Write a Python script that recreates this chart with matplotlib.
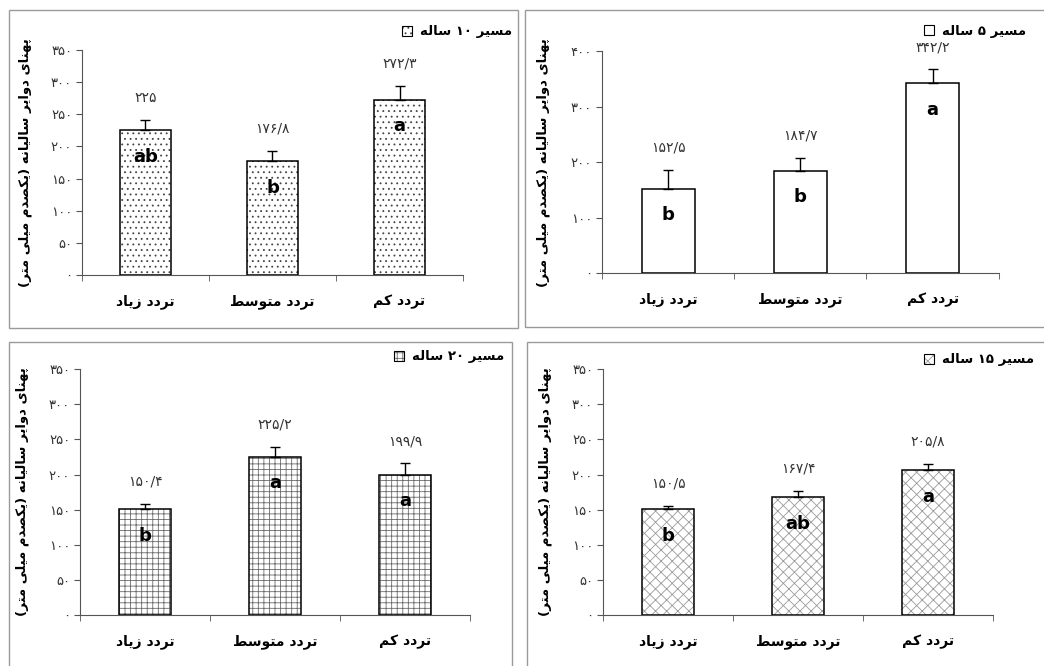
import re
import matplotlib
matplotlib.use('Agg')
import matplotlib.pyplot as plt
from matplotlib.patches import Patch, Rectangle

plt.rcParams['font.family'] = ['DejaVu Sans']
plt.rcParams['hatch.linewidth'] = 0.6

categories = ['تردد زیاد', 'تردد متوسط', 'تردد کم']

route_10 = 'مسیر ۱۰ ساله'
means_10 = [225.0, 176.8, 272.3]
err_10 = [16, 16, 22]
letters_10 = ['ab', 'b', 'a']

route_5 = 'مسیر ۵ ساله'
means_5 = [152.5, 184.7, 342.2]
err_5 = [33, 23, 25]
letters_5 = ['b', 'b', 'a']

route_20 = 'مسیر ۲۰ ساله'
means_20 = [150.4, 225.2, 199.9]
err_20 = [8, 14, 16]
letters_20 = ['b', 'a', 'a']

route_15 = 'مسیر ۱۵ ساله'
means_15 = [150.5, 167.4, 205.8]
err_15 = [5, 9, 9]
letters_15 = ['b', 'ab', 'a']

ylabel = 'پهنای دوایر سالیانه (یکصدم میلی متر)'

# presentation forms: isolated, final, initial, medial (None -> joins only to the right)
FORMS = {
    'ا': ('\uFE8D', '\uFE8E', None, None),
    'ب': ('\uFE8F', '\uFE90', '\uFE91', '\uFE92'),
    'ت': ('\uFE95', '\uFE96', '\uFE97', '\uFE98'),
    'د': ('\uFEA9', '\uFEAA', None, None),
    'ر': ('\uFEAD', '\uFEAE', None, None),
    'ز': ('\uFEAF', '\uFEB0', None, None),
    'س': ('\uFEB1', '\uFEB2', '\uFEB3', '\uFEB4'),
    'ص': ('\uFEB9', '\uFEBA', '\uFEBB', '\uFEBC'),
    'ط': ('\uFEC1', '\uFEC2', '\uFEC3', '\uFEC4'),
    'ل': ('\uFEDD', '\uFEDE', '\uFEDF', '\uFEE0'),
    'م': ('\uFEE1', '\uFEE2', '\uFEE3', '\uFEE4'),
    'ن': ('\uFEE5', '\uFEE6', '\uFEE7', '\uFEE8'),
    'ه': ('\uFEE9', '\uFEEA', '\uFEEB', '\uFEEC'),
    'و': ('\uFEED', '\uFEEE', None, None),
    'پ': ('\uFB56', '\uFB57', '\uFB58', '\uFB59'),
    'ک': ('\uFB8E', '\uFB8F', '\uFB90', '\uFB91'),
    'ی': ('\uFBFC', '\uFBFD', '\uFBFE', '\uFBFF'),
}


def shape(text):
    out = []
    for i, ch in enumerate(text):
        if ch not in FORMS:
            out.append(ch)
            continue
        iso, fin, ini, med = FORMS[ch]
        prev = text[i - 1] if i > 0 else ''
        nxt = text[i + 1] if i < len(text) - 1 else ''
        jp = prev in FORMS and FORMS[prev][2] is not None
        jn = ini is not None and nxt in FORMS
        if jp and jn:
            out.append(med)
        elif jp:
            out.append(fin)
        elif jn:
            out.append(ini)
        else:
            out.append(iso)
    return ''.join(out)


def rtl(text):
    tokens = re.findall(r'[0-9\u06F0-\u06F9/.]+|[^0-9\u06F0-\u06F9/.]', shape(text))
    tokens.reverse()
    mirror = {'(': ')', ')': '('}
    return ''.join(mirror.get(t, t) for t in tokens)


def fa_num(v):
    s = '{:g}'.format(v).replace('.', '/')
    return s.translate(str.maketrans('0123456789', '۰۱۲۳۴۵۶۷۸۹'))


panels = [
    (route_10, means_10, err_10, letters_10, '...', '#444444', 350, 50),
    (route_5, means_5, err_5, letters_5, '', 'black', 400, 100),
    (route_20, means_20, err_20, letters_20, '+++', '#6a6a6a', 350, 50),
    (route_15, means_15, err_15, letters_15, 'xxx', '#9a9a9a', 350, 50),
]
axes_pos = [
    [0.0785, 0.587, 0.365, 0.338],
    [0.5766, 0.590, 0.380, 0.333],
    [0.0766, 0.0766, 0.3736, 0.369],
    [0.5776, 0.0766, 0.3736, 0.369],
]
frames = [
    (0.0086, 0.5075, 0.4876, 0.4775),
    (0.5029, 0.509, 0.52, 0.476),
    (0.0086, -0.01, 0.4818, 0.497),
    (0.5048, -0.01, 0.52, 0.497),
]
legend_pos = [(0.385, 0.952), (0.885, 0.953), (0.377, 0.464), (0.885, 0.46)]

fig = plt.figure(figsize=(10.44, 6.66), dpi=100)

for fr in frames:
    fig.add_artist(Rectangle(fr[:2], fr[2], fr[3], transform=fig.transFigure,
                             fill=False, edgecolor='#9a9a9a', linewidth=1.0))

x = list(range(len(categories)))
for (route, means, errs, letters, hatch, hcol, ymax, step), pos, lp in zip(panels, axes_pos, legend_pos):
    ax = fig.add_axes(pos)
    # hatch layer in its own colour, then the black outline on top
    ax.bar(x, means, width=0.4, color='white', edgecolor=hcol, linewidth=0.01,
           hatch=hatch, zorder=2)
    ax.bar(x, means, width=0.4, fill=False, edgecolor='black', linewidth=1.1, zorder=2.5)
    ax.errorbar(x, means, yerr=[[0] * len(errs), errs], fmt='none', ecolor='black',
                elinewidth=1.0, capsize=3.5, capthick=1.0, zorder=3)
    for xi, m, e, let in zip(x, means, errs, letters):
        ax.annotate(fa_num(m), (xi, m + e), xytext=(0, 16), textcoords='offset points',
                    ha='center', va='center', fontsize=10, color='#333333')
        ax.annotate(let, (xi, m), xytext=(0, -19), textcoords='offset points',
                    ha='center', va='center', fontsize=13, fontweight='bold', zorder=4)
    ax.set_xlim(-0.5, 2.5)
    ax.set_ylim(0, ymax)
    yt = list(range(0, ymax + 1, step))
    ax.set_yticks(yt)
    ax.set_yticklabels([fa_num(t) for t in yt], fontsize=9.5, color='#333333')
    ax.set_xticks(x)
    ax.set_xticklabels([rtl(c) for c in categories], fontsize=10, fontweight='bold')
    ax.set_xticks([-0.5, 0.5, 1.5, 2.5], minor=True)
    ax.tick_params(axis='x', which='major', length=0, pad=14)
    ax.tick_params(axis='x', which='minor', length=4, direction='out', color='#555555')
    ax.tick_params(axis='y', length=4, direction='out', color='#555555', pad=3)
    for s in ['top', 'right']:
        ax.spines[s].set_visible(False)
    for s in ['left', 'bottom']:
        ax.spines[s].set_color('#555555')
    ax.set_ylabel(rtl(ylabel), fontsize=9.5, fontweight='bold')
    ax.yaxis.set_label_coords(-0.13, 0.5)
    hatched = Patch(facecolor='white', edgecolor=hcol, hatch=hatch, linewidth=0.01)
    outline = Patch(facecolor='none', edgecolor='black', linewidth=0.8)
    ax.legend(handles=[(hatched, outline)], labels=[rtl(route)], loc='center left',
              bbox_to_anchor=lp, bbox_transform=fig.transFigure, frameon=False,
              handlelength=0.8, handleheight=0.8, handletextpad=0.6,
              borderpad=0, borderaxespad=0, prop={'weight': 'bold', 'size': 9.5})

fig.savefig('out.png', dpi=100)
